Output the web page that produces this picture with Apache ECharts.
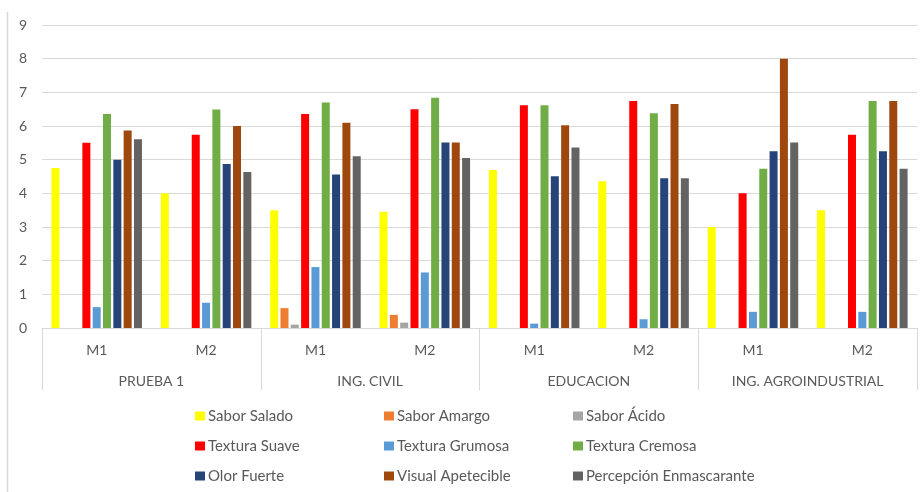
<!DOCTYPE html>
<html>
<head>
<meta charset="utf-8">
<script src="https://cdn.jsdelivr.net/npm/echarts@6/dist/echarts.min.js"></script>
<style>
  html, body { margin: 0; padding: 0; background: #fff; }
  #chart { width: 924px; height: 492px; }
</style>
</head>
<body>
<div id="chart"></div>
<script>
const muestras = ['M1', 'M2', 'M1', 'M2', 'M1', 'M2', 'M1', 'M2'];
const grupos = ['PRUEBA 1', 'ING. CIVIL', 'EDUCACION', 'ING. AGROINDUSTRIAL'];

const saborSalado = [4.75, 4.0, 3.5, 3.45, 4.69, 4.36, 3.0, 3.5];
const saborAmargo = [0, 0, 0.59, 0.39, 0, 0, 0, 0];
const saborAcido = [0, 0, 0.1, 0.16, 0, 0, 0, 0];
const texturaSuave = [5.5, 5.74, 6.36, 6.5, 6.62, 6.74, 4.0, 5.74];
const texturaGrumosa = [0.62, 0.75, 1.81, 1.65, 0.13, 0.26, 0.48, 0.48];
const texturaCremosa = [6.36, 6.49, 6.7, 6.84, 6.62, 6.38, 4.73, 6.74];
const olorFuerte = [5.0, 4.87, 4.56, 5.51, 4.51, 4.45, 5.25, 5.25];
const visualApetecible = [5.87, 6.0, 6.1, 5.51, 6.02, 6.65, 8.0, 6.74];
const percepcion = [5.61, 4.63, 5.1, 5.05, 5.36, 4.45, 5.51, 4.73];

const yTicks = [0, 1, 2, 3, 4, 5, 6, 7, 8, 9];

const series = [
    { name: 'Sabor Salado', data: saborSalado, color: '#FFFF00' },
    { name: 'Sabor Amargo', data: saborAmargo, color: '#ED7D31' },
    { name: 'Sabor Ácido', data: saborAcido, color: '#A5A5A5' },
    { name: 'Textura Suave', data: texturaSuave, color: '#FF0000' },
    { name: 'Textura Grumosa', data: texturaGrumosa, color: '#5B9BD5' },
    { name: 'Textura Cremosa', data: texturaCremosa, color: '#70AD47' },
    { name: 'Olor Fuerte', data: olorFuerte, color: '#264478' },
    { name: 'Visual Apetecible', data: visualApetecible, color: '#9E480E' },
    { name: 'Percepción Enmascarante', data: percepcion, color: '#636363' }
];

const textColor = '#595959';
const lineColor = '#d9d9d9';
const font = 'Lato, "Open Sans", sans-serif';

// leyenda en tres columnas
const legendCols = [195, 384, 573];
const legends = legendCols.map((left, c) => ({
    orient: 'vertical',
    left: left,
    top: 406,
    padding: 0,
    icon: 'rect',
    itemWidth: 10,
    itemHeight: 9,
    itemGap: 10,
    textStyle: { color: textColor, fontSize: 15, fontFamily: font, lineHeight: 20, padding: [0, 0, 0, -2] },
    data: [series[c].name, series[c + 3].name, series[c + 6].name]
}));

const chart = echarts.init(document.getElementById('chart'), null, { renderer: 'canvas' });
chart.setOption({
    backgroundColor: '#ffffff',
    animation: false,
    legend: legends,
    grid: { left: 42, right: 7, top: 25, bottom: 164 },
    xAxis: [
        {
            type: 'category',
            data: muestras,
            position: 'bottom',
            axisLine: { lineStyle: { color: lineColor, width: 1 } },
            axisTick: { show: false },
            axisLabel: { color: textColor, fontSize: 14, fontFamily: font, margin: 15 }
        },
        {
            type: 'category',
            data: grupos,
            position: 'bottom',
            axisLine: { show: false },
            axisTick: { show: true, length: 62, lineStyle: { color: lineColor, width: 1 } },
            axisLabel: { color: textColor, fontSize: 14, fontFamily: font, margin: 46 },
            splitLine: { show: false }
        }
    ],
    yAxis: {
        type: 'value',
        min: yTicks[0],
        max: yTicks[yTicks.length - 1],
        interval: 1,
        axisLine: { show: false },
        axisTick: { show: false },
        axisLabel: { color: textColor, fontSize: 14, fontFamily: font, margin: 15 },
        splitLine: { lineStyle: { color: lineColor, width: 1 } }
    },
    graphic: [
        {
            type: 'line',
            shape: { x1: 7.5, y1: 12, x2: 7.5, y2: 492 },
            style: { stroke: lineColor, lineWidth: 1.5 },
            silent: true
        }
    ],
    series: series.map(s => ({
        name: s.name,
        type: 'bar',
        xAxisIndex: 0,
        data: s.data,
        barWidth: 8,
        barGap: '29%',
        itemStyle: { color: s.color }
    }))
});
</script>
</body>
</html>
